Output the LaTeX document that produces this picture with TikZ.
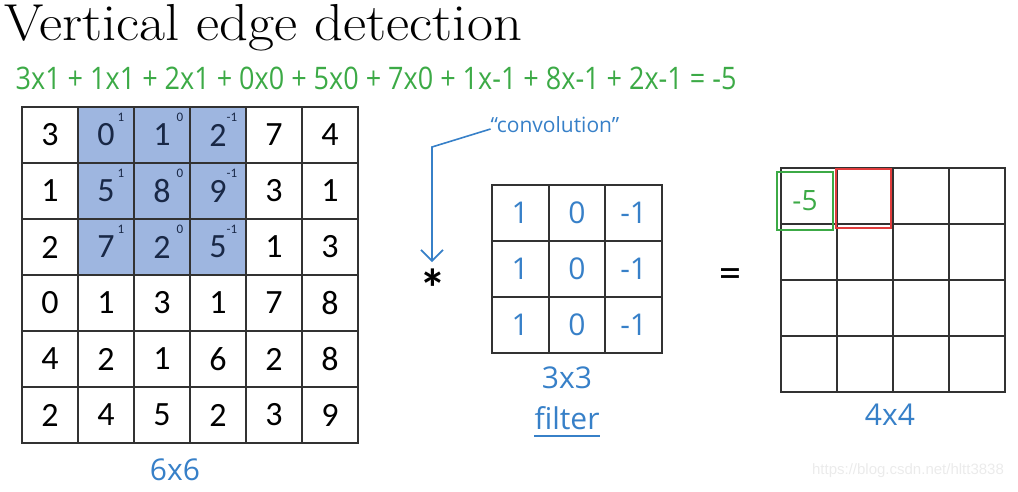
\documentclass[tikz,border=0pt]{standalone}
\usepackage{fontspec}
\usetikzlibrary{arrows.meta}
\newfontfamily\numfont{Carlito}
\newfontfamily\handfont{Open Sans}
\newfontfamily\wmfont{Liberation Sans}
\definecolor{gridc}{RGB}{50,50,50}
\definecolor{hlc}{RGB}{158,182,224}
\definecolor{navy}{RGB}{25,40,70}
\definecolor{handblue}{RGB}{55,128,200}
\definecolor{handgreen}{RGB}{60,170,70}
\definecolor{handred}{RGB}{225,60,60}
\begin{document}
\begin{tikzpicture}[x=1pt,y=-1pt,
  cell/.style={draw=gridc, line width=1.8pt, minimum width=56pt, minimum height=56pt, inner sep=0pt, font=\numfont\fontsize{34}{34}\selectfont},
  fcell/.style={draw=gridc, line width=1.8pt, minimum width=56.7pt, minimum height=56pt, inner sep=0pt, text=handblue, font=\handfont\fontsize{30}{30}\selectfont},
  ocell/.style={draw=gridc, line width=1.8pt, minimum width=56pt, minimum height=56pt, inner sep=0pt},
  sup/.style={inner sep=0pt, text=navy, font=\numfont\fontsize{13}{13}\selectfont},
  hand/.style={inner sep=0pt, text=handblue, font=\handfont\fontsize{30}{30}\selectfont},
  boxline/.style={line width=1.5pt}
]
\useasboundingbox (0,0) rectangle (1018,491);
% title
\node[anchor=west, inner sep=0pt, xscale=1.09, font=\fontsize{52}{52}\selectfont] (title) at (4,28) {Vertical edge detection};
% green formula
\node[inner sep=0pt, text=handgreen, yscale=1.15, font=\handfont\fontsize{27}{27}\selectfont] (formula) at (376,78) {3x1 + 1x1 + 2x1 + 0x0 + 5x0 + 7x0 + 1x-1 + 8x-1 + 2x-1 = -5};
% highlight
\fill[hlc] (78,107) rectangle (246,276);
% 6x6 grid
\foreach \row [count=\i from 0] in {{3,0,1,2,7,4},{1,5,8,9,3,1},{2,7,2,5,1,3},{0,1,3,1,7,8},{4,2,1,6,2,8},{2,4,5,2,3,9}} {
  \foreach \v [count=\j from 0] in \row {
    \def\tc{black}
    \ifnum\i<3 \ifnum\j>0 \ifnum\j<4 \def\tc{navy}\fi\fi\fi
    \node[cell, text=\tc] (a-\i-\j) at (50+56*\j,135+56*\i) {\v};
  }
}
\foreach \i in {0,1,2} {
  \node[sup] at ([xshift=-14pt,yshift=-11pt]a-\i-1.north east) {1};
  \node[sup] at ([xshift=-11pt,yshift=-11pt]a-\i-2.north east) {0};
  \node[sup] at ([xshift=-15pt,yshift=-11pt]a-\i-3.north east) {-1};
}
\node[hand] (lab66) at (175,470) {6x6};
% convolution label and arrow
\node[hand, font=\handfont\fontsize{21}{21}\selectfont] (conv) at (555,125) {\char"201C convolution\char"201D};
\node[inner sep=0pt, font=\numfont\bfseries\fontsize{54}{54}\selectfont] (star) at (433,288) {*};
\coordinate (bend) at (432,147);
\draw[handblue, line width=1.6pt, -{Straight Barb[length=11pt,width=22pt]}] ([yshift=-4pt]conv.west) -- (bend) -- (432,262);
% filter
\foreach \row [count=\i from 0] in {{1,0,-1},{1,0,-1},{1,0,-1}} {
  \foreach \v [count=\j from 0] in \row {
    \node[fcell] (f-\i-\j) at (520.3+56.7*\j,213+56*\i) {\v};
  }
}
\node[hand] (lab33) at (567,378) {3x3};
\node[hand] (labf) at (567,418) {filter};
\draw[handblue, line width=1.6pt] ([yshift=-6pt]labf.south west) -- ([yshift=-6pt]labf.south east);
% equals
\node[inner sep=0pt, font=\numfont\fontsize{44}{44}\selectfont] (eq) at (730,278) {=};
% output grid
\foreach \i in {0,1,2,3} {
  \foreach \j in {0,1,2,3} {
    \node[ocell] (o-\i-\j) at (809+56*\j,196+56*\i) {};
  }
}
\draw[handgreen, boxline] (777,172) rectangle (833,230);
\draw[handred, boxline] (836,169) rectangle (891,228);
\node[hand, text=handgreen, font=\handfont\fontsize{28}{28}\selectfont] (res) at (805,201) {-5};
\node[hand] (lab44) at (890,415) {4x4};
% watermark
\node[inner sep=0pt, text=black!8, font=\wmfont\fontsize{15}{15}\selectfont] (wm) at (908,471) {https://blog.csdn.net/hltt3838};
\end{tikzpicture}
\end{document}
